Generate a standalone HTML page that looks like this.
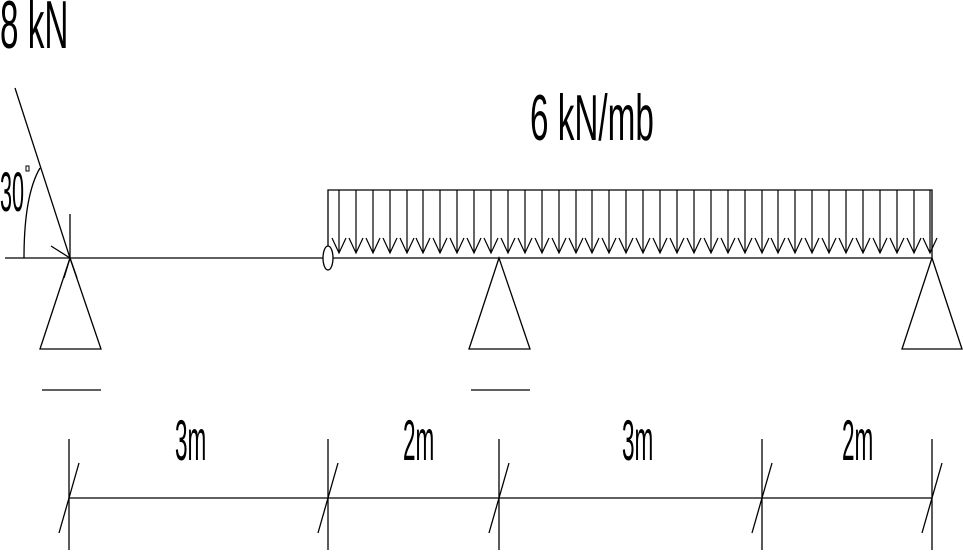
<!DOCTYPE html>
<html><head><meta charset="utf-8"><style>
html,body{margin:0;padding:0;background:#fff;}
svg{display:block;}
text{font-family:"Liberation Sans",sans-serif;fill:#000;}
</style></head><body>
<svg width="963" height="554" viewBox="0 0 963 554" xmlns="http://www.w3.org/2000/svg">
<defs>
<g id="a"><path d="M0 190 V253 M-7 238 L0 253 L7 238" stroke="#000" stroke-width="1.2" fill="none"/></g>
</defs>
<g stroke="#000" stroke-width="1.3" fill="none">
<line x1="5" y1="258" x2="932" y2="258"/>
<line x1="15" y1="88" x2="70" y2="258"/>
<line x1="70" y1="214" x2="70" y2="258"/>
<line x1="51" y1="246" x2="70" y2="258"/>
<line x1="64" y1="278" x2="70" y2="258"/>
<line x1="77" y1="278" x2="70" y2="258"/>
<path d="M24 258 C24 215 30 185 40 168"/>
<path d="M70 258 L40 349 L101 349 Z"/>
<line x1="42" y1="390" x2="101" y2="390"/>
<path d="M499 258 L469 349 L530 349 Z"/>
<line x1="471" y1="390" x2="530" y2="390"/>
<path d="M932 258 L902 349 L962 349 Z"/>
<path d="M328 258 V190 H932 V258"/>
<ellipse cx="328" cy="258" rx="5" ry="12" fill="#fff"/>
<line x1="69" y1="498" x2="932" y2="498"/>
<line x1="69" y1="439" x2="69" y2="550"/><line x1="59" y1="533" x2="79" y2="463"/>
<line x1="328" y1="439" x2="328" y2="550"/><line x1="318" y1="533" x2="338" y2="463"/>
<line x1="499" y1="439" x2="499" y2="550"/><line x1="489" y1="533" x2="509" y2="463"/>
<line x1="762" y1="439" x2="762" y2="550"/><line x1="752" y1="533" x2="772" y2="463"/>
<line x1="932" y1="439" x2="932" y2="550"/><line x1="922" y1="533" x2="942" y2="463"/>
<rect x="26" y="166" width="3" height="5" stroke-width="1"/>
</g>
<g>
<use href="#a" x="339"/><use href="#a" x="356"/><use href="#a" x="373"/><use href="#a" x="390"/>
<use href="#a" x="407"/><use href="#a" x="423"/><use href="#a" x="440"/><use href="#a" x="457"/>
<use href="#a" x="474"/><use href="#a" x="491"/><use href="#a" x="508"/><use href="#a" x="525"/>
<use href="#a" x="542"/><use href="#a" x="559"/><use href="#a" x="576"/><use href="#a" x="592"/>
<use href="#a" x="609"/><use href="#a" x="626"/><use href="#a" x="643"/><use href="#a" x="660"/>
<use href="#a" x="677"/><use href="#a" x="694"/><use href="#a" x="711"/><use href="#a" x="728"/>
<use href="#a" x="745"/><use href="#a" x="762"/><use href="#a" x="778"/><use href="#a" x="795"/>
<use href="#a" x="812"/><use href="#a" x="829"/><use href="#a" x="846"/><use href="#a" x="863"/>
<use href="#a" x="880"/><use href="#a" x="897"/><use href="#a" x="914"/><use href="#a" x="930"/>
</g>
<g font-size="52">
<text transform="translate(0,48) scale(0.64,1.3)">8 kN</text>
<text transform="translate(530,140) scale(0.64,1.25)">6 kN/mb</text>
</g>
<g font-size="48">
<text transform="translate(175,460) scale(0.47,1.2)">3m</text>
<text transform="translate(403,460) scale(0.47,1.2)">2m</text>
<text transform="translate(622,460) scale(0.47,1.2)">3m</text>
<text transform="translate(842,460) scale(0.47,1.2)">2m</text>
<text transform="translate(0,211) scale(0.47,1.2)" font-size="46">30</text>
</g>
</svg>
</body></html>
